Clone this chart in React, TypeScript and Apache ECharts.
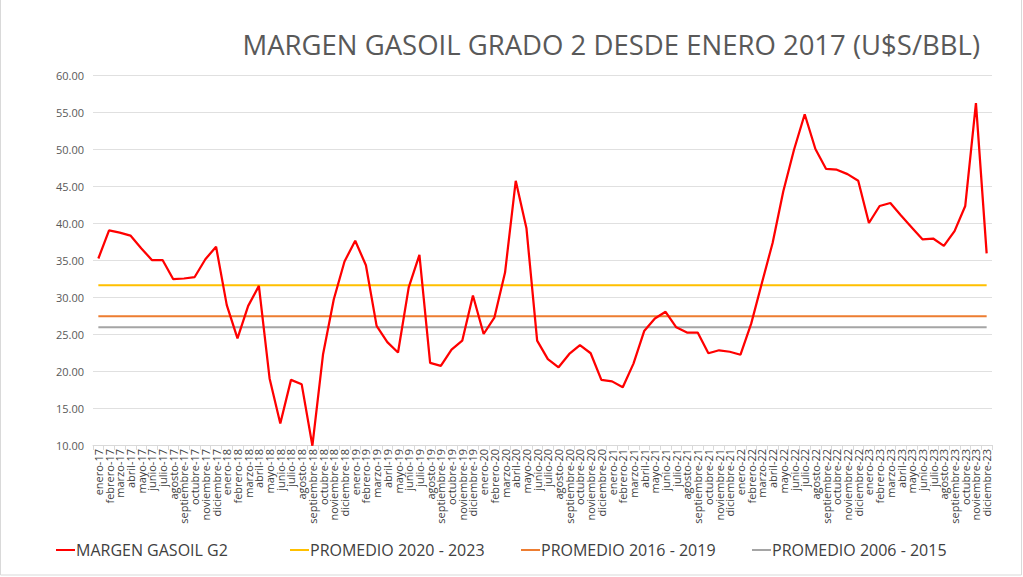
import React, { useEffect, useRef } from "react";
import * as echarts from "echarts";

const monthNames = ["enero", "febrero", "marzo", "abril", "mayo", "junio", "julio", "agosto", "septiembre", "octubre", "noviembre", "diciembre"];
const years = ["17", "18", "19", "20", "21", "22", "23"];
const categories: string[] = [];
years.forEach((y) => monthNames.forEach((m) => categories.push(`${m}-${y}`)));

const margenGasoilG2 = [
  35.2, 39.0, 38.7, 38.3, 36.6, 35.0, 35.0, 32.4, 32.5, 32.7, 35.1, 36.8,
  28.9, 24.4, 28.8, 31.5, 19.0, 12.9, 18.8, 18.2, 9.9, 22.3, 29.7, 34.8,
  37.6, 34.3, 26.1, 23.9, 22.5, 31.3, 35.7, 21.1, 20.7, 22.9, 24.1, 30.2,
  25.0, 27.2, 33.3, 45.7, 39.3, 24.1, 21.6, 20.5, 22.3, 23.5, 22.4, 18.8,
  18.6, 17.8, 21.0, 25.4, 27.1, 28.0, 25.9, 25.2, 25.2, 22.4, 22.8, 22.6,
  22.2, 26.4, 31.9, 37.3, 44.3, 49.9, 54.7, 50.0, 47.3, 47.2, 46.6, 45.7,
  40.0, 42.3, 42.7, 41.0, 39.4, 37.8, 37.9, 36.9, 38.9, 42.3, 56.2, 35.9,
];

const promedio2020_2023 = 31.6;
const promedio2016_2019 = 27.4;
const promedio2006_2015 = 25.9;

const seriesNames = ["MARGEN GASOIL G2", "PROMEDIO 2020 - 2023", "PROMEDIO 2016 - 2019", "PROMEDIO 2006 - 2015"];
const seriesColors = ["#ff0000", "#ffc000", "#ed7d31", "#a5a5a5"];
const yTicks = { min: 10, max: 60, interval: 5 };

const FONT = "'Open Sans', 'Noto Sans', sans-serif";
const legendLefts = [51, 285, 516, 747];

export default function App() {
  const ref = useRef<HTMLDivElement>(null);
  useEffect(() => {
    if (!ref.current) return;
    const chart = echarts.init(ref.current, undefined, { renderer: "svg" });
    const flat = (v: number) => categories.map(() => v);
    chart.setOption({
      animation: false,
      backgroundColor: "#ffffff",
      title: {
        text: "MARGEN GASOIL GRADO 2 DESDE ENERO 2017 (U$S/BBL)",
        right: 38,
        top: 25,
        textStyle: { fontFamily: FONT, fontSize: 27.5, fontWeight: "normal", color: "#595959" },
      },
      legend: seriesNames.map((name, i) => ({
        left: legendLefts[i],
        top: 537,
        itemWidth: 19,
        itemHeight: 2,
        icon: "rect",
        textStyle: { fontFamily: FONT, fontSize: 16, color: "#404040", padding: [0, 0, 0, -4] },
        data: [name],
      })),
      grid: { left: 93, right: 31, top: 75, bottom: 132, containLabel: false },
      xAxis: {
        type: "category",
        data: categories,
        boundaryGap: true,
        axisLine: { lineStyle: { color: "#d9d9d9", width: 1 } },
        axisTick: { show: true, interval: 0, length: 5, lineStyle: { color: "#d9d9d9" } },
        axisLabel: {
          interval: 0,
          rotate: 90,
          margin: 4,
          fontFamily: FONT,
          fontSize: 11,
          color: "#404040",
        },
      },
      yAxis: {
        type: "value",
        min: yTicks.min,
        max: yTicks.max,
        interval: yTicks.interval,
        axisLine: { show: false },
        axisTick: { show: false },
        splitLine: { lineStyle: { color: "#e0e0e0", width: 1 } },
        axisLabel: {
          formatter: (v: number) => v.toFixed(2),
          margin: 9,
          fontFamily: FONT,
          fontSize: 11,
          color: "#595959",
        },
      },
      series: [
        {
          name: seriesNames[0],
          type: "line",
          data: margenGasoilG2,
          symbol: "none",
          clip: true,
          z: 5,
          lineStyle: { color: seriesColors[0], width: 2.25 },
          itemStyle: { color: seriesColors[0] },
        },
        {
          name: seriesNames[1],
          type: "line",
          data: flat(promedio2020_2023),
          symbol: "none",
          lineStyle: { color: seriesColors[1], width: 2 },
          itemStyle: { color: seriesColors[1] },
        },
        {
          name: seriesNames[2],
          type: "line",
          data: flat(promedio2016_2019),
          symbol: "none",
          lineStyle: { color: seriesColors[2], width: 2 },
          itemStyle: { color: seriesColors[2] },
        },
        {
          name: seriesNames[3],
          type: "line",
          data: flat(promedio2006_2015),
          symbol: "none",
          lineStyle: { color: seriesColors[3], width: 2 },
          itemStyle: { color: seriesColors[3] },
        },
      ],
      graphic: [
        {
          type: "rect",
          shape: { x: 0.5, y: -2, width: 1021, height: 577 },
          style: { fill: "none", stroke: "#d9d9d9", lineWidth: 1 },
          silent: true,
        },
      ],
    });
    return () => chart.dispose();
  }, []);
  return (
    <div
      ref={ref}
      style={{ position: "absolute", left: 0, top: 0, width: 1023, height: 577 }}
    />
  );
}
